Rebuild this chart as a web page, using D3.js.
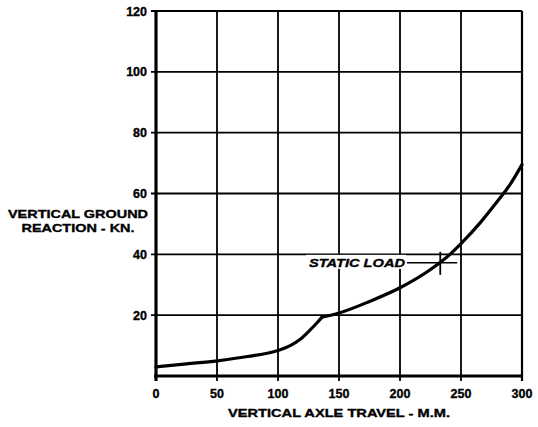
<!DOCTYPE html>
<html><head><meta charset="utf-8">
<script src="https://cdn.jsdelivr.net/npm/d3@7"></script>
<style>body{margin:0;background:#fff}svg{display:block}text{font-family:"Liberation Sans",Arial,sans-serif;font-weight:bold;fill:#000;stroke:#000;stroke-width:0.35px}</style>
</head><body><svg id="c" width="538" height="427"></svg>
<script>
const travel = [0, 25, 50, 75, 100, 110, 118, 126, 132, 136, 150, 175, 200, 225, 241, 250, 266, 280, 290, 300];
const reaction = [3, 4, 5, 6.4, 8.4, 10, 12, 15, 17.5, 19.3, 20.7, 24.5, 29, 35, 40, 43.5, 50.5, 57.5, 62.8, 69.5];
const kneeIndex = 9; // sharp bend at the end of the first stage
const xTicks = [0, 50, 100, 150, 200, 250, 300];
const yTicks = [20, 40, 60, 80, 100, 120];
const staticLoad = {x: 233, y: 37.2, label: "STATIC LOAD"};
const xTitle = "VERTICAL AXLE TRAVEL - M.M.";
const yTitle = ["VERTICAL GROUND", "REACTION - KN."];

const svg = d3.select("#c");
const L = 156, R = 522, T = 11, B = 376;
const x = d3.scaleLinear().domain([0, 300]).range([L, R]);
const y = d3.scaleLinear().domain([0, 120]).range([B, T]);

// grid
svg.append("g").selectAll("line").data(xTicks.slice(1, -1)).join("line")
  .attr("x1", d => x(d)).attr("x2", d => x(d)).attr("y1", T).attr("y2", B + 5)
  .attr("stroke", "#000").attr("stroke-width", 1.8);
svg.append("g").selectAll("line").data(yTicks.slice(0, -1)).join("line")
  .attr("x1", L - 5).attr("x2", R).attr("y1", d => y(d)).attr("y2", d => y(d))
  .attr("stroke", "#000").attr("stroke-width", 1.8);
// frame
svg.append("line").attr("x1", L - 5).attr("x2", R).attr("y1", T).attr("y2", T).attr("stroke", "#000").attr("stroke-width", 2);
svg.append("line").attr("x1", R).attr("x2", R).attr("y1", T).attr("y2", B + 5).attr("stroke", "#000").attr("stroke-width", 2.2);
svg.append("line").attr("x1", L).attr("x2", L).attr("y1", T).attr("y2", B + 5).attr("stroke", "#000").attr("stroke-width", 3.2);
svg.append("line").attr("x1", L - 2).attr("x2", R + 1).attr("y1", B).attr("y2", B).attr("stroke", "#000").attr("stroke-width", 3.2);

// tick labels
svg.append("g").selectAll("text").data(xTicks).join("text")
  .attr("x", d => x(d)).attr("y", 398).attr("text-anchor", "middle")
  .attr("font-size", 12.5).text(d => d);
svg.append("g").selectAll("text").data(yTicks).join("text")
  .attr("x", 147).attr("y", d => y(d) + 4.5).attr("text-anchor", "end")
  .attr("font-size", 12.5).text(d => d);

// titles
svg.append("text").attr("x", 339).attr("y", 417).attr("text-anchor", "middle")
  .attr("font-size", 11.5).attr("textLength", 222).attr("lengthAdjust", "spacingAndGlyphs").text(xTitle);
svg.append("text").attr("x", 78).attr("y", 218).attr("text-anchor", "middle")
  .attr("font-size", 11.5).attr("textLength", 140).attr("lengthAdjust", "spacingAndGlyphs").text(yTitle[0]);
svg.append("text").attr("x", 78).attr("y", 232).attr("text-anchor", "middle")
  .attr("font-size", 11.5).attr("textLength", 113).attr("lengthAdjust", "spacingAndGlyphs").text(yTitle[1]);

// curve (two stages joined at the knee)
const pts = travel.map((t, i) => [t, reaction[i]]);
const line = d3.line().x(d => x(d[0])).y(d => y(d[1])).curve(d3.curveMonotoneX);
[pts.slice(0, kneeIndex + 1), pts.slice(kneeIndex)].forEach(seg => {
  svg.append("path").datum(seg).attr("d", line)
    .attr("fill", "none").attr("stroke", "#000").attr("stroke-width", 3.2)
    .attr("stroke-linejoin", "round").attr("stroke-linecap", "round");
});

// static load marker
const sx = x(staticLoad.x), sy = y(staticLoad.y);
svg.append("line").attr("x1", 407).attr("x2", sx + 17).attr("y1", sy).attr("y2", sy).attr("stroke", "#000").attr("stroke-width", 1.5);
svg.append("line").attr("x1", sx).attr("x2", sx).attr("y1", sy - 11).attr("y2", sy + 12).attr("stroke", "#000").attr("stroke-width", 1.8);
svg.append("rect").attr("x", 306).attr("y", sy - 8).attr("width", 100).attr("height", 14).attr("fill", "#fff");
svg.append("text").attr("x", 405).attr("y", sy + 4).attr("text-anchor", "end")
  .attr("font-size", 11.5).attr("font-style", "italic").attr("textLength", 96).attr("lengthAdjust", "spacingAndGlyphs").text(staticLoad.label);
</script></body></html>
